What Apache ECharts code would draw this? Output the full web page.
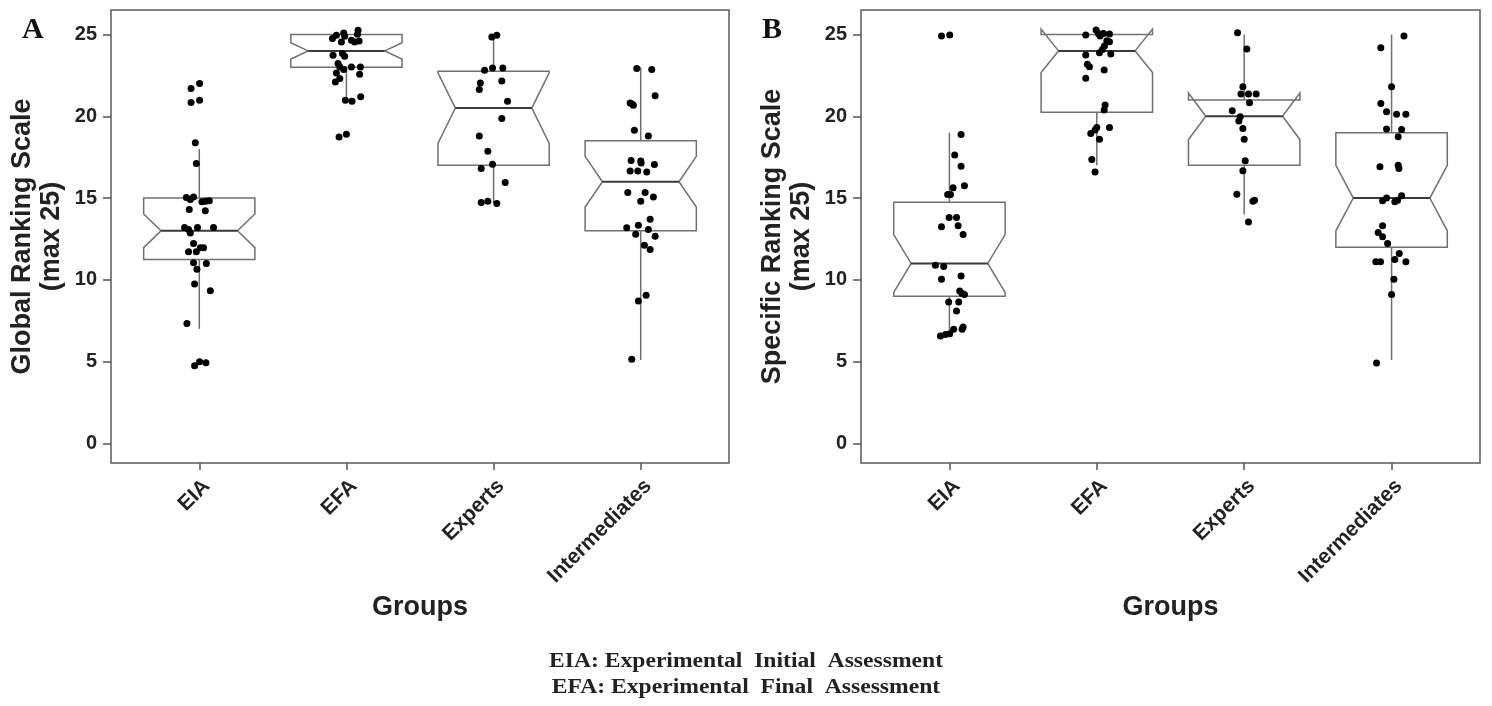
<!DOCTYPE html>
<html>
<head>
<meta charset="utf-8">
<script src="https://cdn.jsdelivr.net/npm/echarts@6/dist/echarts.min.js"></script>
<style>
html,body{margin:0;padding:0;background:#fff;}
#chart{width:1492px;height:706px;}
</style>
</head>
<body>
<div id="chart"></div>
<script>
// ---------- data ----------
const categories = ['EIA', 'EFA', 'Experts', 'Intermediates'];
const yTicks = [0, 5, 10, 15, 20, 25];
const xTicks = [1, 2, 3, 4];

// Panel A (Global Ranking Scale) box statistics
const q1A = [11.25, 23, 17, 13];
const medA = [13, 24, 20.5, 16];
const q3A = [15, 25, 22.75, 18.5];
const whiskLoA = [7, 21, 14.7, 5.1];
const whiskHiA = [18, 25, 25, 23];
const notchLoA = [11.97, 23.5, 18.34, 14.45];
const notchHiA = [14.03, 24.5, 22.66, 17.55];

// Panel B (Specific Ranking Scale) box statistics
const q1B = [9, 20.25, 17, 12];
const medB = [11, 24, 20, 15];
const q3B = [14.75, 25, 21, 19];
const whiskLoB = [6.7, 17, 14, 5.1];
const whiskHiB = [19, 25, 25, 25];
const notchLoB = [9.23, 22.67, 18.58, 13];
const notchHiB = [12.77, 25.33, 21.42, 17];

// Panel A points: values and horizontal jitter (category units)
const valA_EIA = [21.70, 22.00, 20.84, 20.98, 18.38, 17.11, 15.04, 14.91, 15.07, 14.77, 14.81, 14.83, 14.30, 14.22, 13.20, 13.08, 12.87, 13.20, 13.20, 12.22, 11.71, 11.71, 11.96, 11.96, 11.04, 11.00, 10.64, 9.74, 9.33, 7.33, 4.75, 4.99, 4.93];
const jitA_EIA = [-0.056, 0.002, -0.056, 0.002, -0.027, -0.020, -0.088, -0.061, -0.039, 0.018, 0.043, 0.068, -0.068, 0.041, -0.100, -0.073, -0.061, -0.012, 0.097, -0.039, -0.073, -0.020, 0.007, 0.029, -0.039, 0.048, -0.016, -0.032, 0.075, -0.084, -0.032, 0.002, 0.045];
const valA_EFA = [24.75, 24.96, 25.10, 24.90, 24.55, 24.65, 24.55, 25.26, 25.02, 24.60, 23.73, 23.84, 23.67, 23.23, 23.02, 22.86, 23.02, 23.02, 22.65, 22.57, 22.31, 22.10, 20.98, 20.92, 21.19, 18.74, 18.90];
const jitA_EFA = [-0.095, -0.068, -0.018, -0.012, -0.034, 0.034, 0.056, 0.079, 0.075, 0.086, -0.091, -0.027, -0.012, -0.057, -0.045, -0.018, 0.034, 0.095, -0.068, 0.090, -0.045, -0.075, -0.007, 0.038, 0.097, -0.050, 0.000];
const valA_EXP = [24.85, 24.96, 22.82, 22.96, 22.96, 22.04, 21.64, 22.16, 20.92, 19.87, 18.80, 17.87, 17.07, 16.81, 15.95, 14.73, 14.81, 14.67];
const jitA_EXP = [-0.012, 0.022, -0.061, -0.007, 0.063, -0.090, -0.097, 0.056, 0.095, 0.056, -0.097, -0.039, -0.007, -0.084, 0.079, -0.084, -0.039, 0.022];
const valA_INT = [22.92, 22.86, 21.25, 20.82, 20.74, 20.68, 19.15, 18.80, 17.30, 17.27, 17.15, 17.05, 16.66, 16.66, 16.60, 15.34, 15.34, 15.07, 14.81, 13.71, 13.34, 13.18, 13.08, 12.78, 12.67, 12.12, 11.86, 9.06, 8.70, 5.15];
const jitA_INT = [-0.027, 0.075, 0.098, -0.072, -0.056, -0.050, -0.043, 0.052, -0.065, 0.000, 0.003, 0.093, -0.072, -0.020, 0.041, -0.088, 0.030, 0.086, 0.000, 0.064, -0.016, -0.095, 0.052, -0.034, 0.098, 0.025, 0.064, 0.037, -0.016, -0.061];

// Panel B points
const valB_EIA = [24.91, 24.97, 18.89, 17.63, 16.95, 15.75, 15.63, 15.22, 15.22, 13.81, 13.81, 13.24, 13.30, 12.77, 10.89, 10.81, 10.04, 10.24, 9.32, 9.16, 9.10, 8.65, 8.65, 8.10, 6.57, 6.65, 6.71, 6.98, 6.98, 7.12];
const jitB_EIA = [-0.054, 0.002, 0.079, 0.036, 0.079, 0.102, 0.025, -0.012, 0.007, -0.002, 0.048, -0.054, 0.059, 0.093, -0.095, -0.039, -0.054, 0.079, 0.070, 0.086, 0.102, -0.005, 0.063, 0.048, -0.061, -0.027, 0.002, 0.029, 0.086, 0.093];
const valB_EFA = [24.97, 25.28, 25.07, 24.91, 25.07, 25.03, 24.62, 24.56, 24.30, 24.09, 23.89, 23.81, 23.75, 23.19, 23.03, 22.83, 22.32, 20.69, 20.38, 19.32, 19.32, 19.16, 18.95, 18.60, 17.36, 16.60];
const jitB_EFA = [-0.075, -0.005, 0.011, 0.022, 0.045, 0.086, 0.068, 0.086, 0.052, 0.038, 0.018, 0.095, -0.075, -0.064, -0.050, 0.050, -0.075, 0.056, 0.050, 0.000, 0.086, -0.012, -0.041, 0.018, -0.034, -0.012];
const valB_EXP = [25.11, 24.11, 21.81, 21.36, 21.36, 21.36, 20.83, 20.34, 19.97, 19.71, 19.26, 18.60, 17.28, 16.67, 15.24, 14.81, 14.87, 13.54];
const jitB_EXP = [-0.045, 0.018, -0.009, -0.022, 0.029, 0.081, 0.036, -0.081, -0.027, -0.036, -0.009, 0.000, 0.007, -0.009, -0.050, 0.059, 0.070, 0.029];
const valB_INT = [24.91, 24.19, 21.81, 20.79, 20.28, 20.12, 20.12, 19.22, 19.20, 18.75, 16.91, 17.01, 16.81, 14.83, 15.01, 14.77, 14.87, 15.14, 13.30, 12.89, 12.63, 12.22, 11.61, 11.10, 11.10, 11.24, 11.10, 10.04, 9.10, 4.91];
const jitB_INT = [0.084, -0.073, 0.000, -0.073, -0.034, 0.034, 0.097, -0.034, 0.068, 0.045, -0.079, 0.045, 0.050, -0.061, -0.034, 0.022, 0.041, 0.068, -0.061, -0.091, -0.061, -0.027, 0.052, -0.107, -0.075, 0.022, 0.097, 0.016, 0.000, -0.102];

// ---------- build ----------
function boxRows(q1, med, q3, lo, hi, nlo, nhi) {
  return xTicks.map((x, i) => [x, q1[i], med[i], q3[i], lo[i], hi[i], nlo[i], nhi[i]]);
}
function pointRows(groups) {
  const rows = [];
  groups.forEach((g, gi) => {
    g[0].forEach((v, i) => rows.push([xTicks[gi] + g[1][i], v]));
  });
  return rows;
}

const BOX_HALF = 0.378, NOTCH_HALF = 0.26;
const LINE_COL = '#707070';
const LABEL_SHIFT = 0.05; // rotated label anchor sits slightly right of the tick

function renderBox(params, api) {
  const x = api.value(0), q1 = api.value(1), med = api.value(2), q3 = api.value(3);
  const lo = api.value(4), hi = api.value(5), nlo = api.value(6), nhi = api.value(7);
  const P = (xx, yy) => api.coord([xx, yy]);
  const xl = x - BOX_HALF, xr = x + BOX_HALF, il = x - NOTCH_HALF, ir = x + NOTCH_HALF;
  const poly = [P(xl, q3), P(xl, nhi), P(il, med), P(xl, nlo), P(xl, q1),
                P(xr, q1), P(xr, nlo), P(ir, med), P(xr, nhi), P(xr, q3)];
  const c = P(x, 0)[0];
  const children = [];
  if (hi > q3) children.push({type: 'line', shape: {x1: c, y1: P(x, q3)[1], x2: c, y2: P(x, hi)[1]}, style: {stroke: LINE_COL, lineWidth: 1.5}});
  if (lo < q1) children.push({type: 'line', shape: {x1: c, y1: P(x, q1)[1], x2: c, y2: P(x, lo)[1]}, style: {stroke: LINE_COL, lineWidth: 1.5}});
  children.push({type: 'polygon', shape: {points: poly}, style: {fill: '#fff', stroke: LINE_COL, lineWidth: 1.5}});
  const m1 = P(il, med), m2 = P(ir, med);
  children.push({type: 'line', shape: {x1: m1[0], y1: m1[1], x2: m2[0], y2: m2[1]}, style: {stroke: '#3a3a3a', lineWidth: 2}});
  return {type: 'group', children};
}

const SANS = 'Liberation Sans, Arial, sans-serif';
const SERIF = 'Liberation Serif, Times New Roman, serif';

function xAxisDef(gi) {
  return {
    gridIndex: gi, type: 'value', min: 0.4, max: 4.6, position: 'bottom',
    axisLine: {show: false, onZero: false},
    splitLine: {show: false},
    axisTick: {show: true, customValues: xTicks, length: 7, lineStyle: {color: '#555', width: 1.5}},
    axisLabel: {
      customValues: xTicks.map(v => v + LABEL_SHIFT), rotate: 45, margin: 20,
      formatter: v => categories[Math.round(v) - 1],
      fontSize: 21, fontWeight: 'bold', color: '#222', fontFamily: SANS
    },
    name: 'Groups', nameLocation: 'middle', nameGap: 130,
    nameTextStyle: {fontSize: 27, fontWeight: 'bold', color: '#222', fontFamily: SANS}
  };
}
function yAxisDef(gi, title) {
  return {
    gridIndex: gi, type: 'value', min: -1.2, max: 26.5, position: 'left',
    axisLine: {show: false, onZero: false},
    splitLine: {show: false},
    axisTick: {show: true, customValues: yTicks, length: 8, lineStyle: {color: '#555', width: 1.5}},
    axisLabel: {customValues: yTicks, margin: 14, fontSize: 20, fontWeight: 'bold', color: '#222', fontFamily: SANS},
    name: title, nameLocation: 'middle', nameGap: 45,
    nameTextStyle: {fontSize: 27, fontWeight: 'bold', color: '#222', fontFamily: SANS, lineHeight: 29}
  };
}

const option = {
  backgroundColor: '#fff',
  animation: false,
  grid: [
    {left: 111, top: 10, width: 618, height: 453, show: true, borderColor: '#5a5a5a', borderWidth: 1.5, backgroundColor: 'transparent'},
    {left: 861, top: 10, width: 619, height: 453, show: true, borderColor: '#5a5a5a', borderWidth: 1.5, backgroundColor: 'transparent'}
  ],
  xAxis: [xAxisDef(0), xAxisDef(1)],
  yAxis: [yAxisDef(0, 'Global Ranking Scale\n(max 25)'), yAxisDef(1, 'Specific Ranking Scale\n(max 25)')],
  series: [
    {type: 'custom', xAxisIndex: 0, yAxisIndex: 0, renderItem: renderBox, encode: {x: 0, y: [1, 2, 3, 4, 5, 6, 7]},
     data: boxRows(q1A, medA, q3A, whiskLoA, whiskHiA, notchLoA, notchHiA), z: 2, silent: true},
    {type: 'custom', xAxisIndex: 1, yAxisIndex: 1, renderItem: renderBox, encode: {x: 0, y: [1, 2, 3, 4, 5, 6, 7]},
     data: boxRows(q1B, medB, q3B, whiskLoB, whiskHiB, notchLoB, notchHiB), z: 2, silent: true},
    {type: 'scatter', xAxisIndex: 0, yAxisIndex: 0, symbolSize: 7, itemStyle: {color: '#000', opacity: 1}, z: 5, silent: true,
     data: pointRows([[valA_EIA, jitA_EIA], [valA_EFA, jitA_EFA], [valA_EXP, jitA_EXP], [valA_INT, jitA_INT]])},
    {type: 'scatter', xAxisIndex: 1, yAxisIndex: 1, symbolSize: 7, itemStyle: {color: '#000', opacity: 1}, z: 5, silent: true,
     data: pointRows([[valB_EIA, jitB_EIA], [valB_EFA, jitB_EFA], [valB_EXP, jitB_EXP], [valB_INT, jitB_INT]])}
  ],
  graphic: [
    {type: 'text', left: 22, top: 15, style: {text: 'A', font: 'bold 30px ' + SERIF, fill: '#111'}},
    {type: 'text', left: 762, top: 15, style: {text: 'B', font: 'bold 30px ' + SERIF, fill: '#111'}},
    {type: 'text', x: 746, y: 662, scaleX: 1.18, style: {text: 'EIA: Experimental  Initial  Assessment', font: 'bold 20px ' + SERIF, fill: '#222', align: 'center', verticalAlign: 'middle'}},
    {type: 'text', x: 746, y: 688, scaleX: 1.18, style: {text: 'EFA: Experimental  Final  Assessment', font: 'bold 20px ' + SERIF, fill: '#222', align: 'center', verticalAlign: 'middle'}}
  ]
};

const chart = echarts.init(document.getElementById('chart'), null, {renderer: 'canvas'});
chart.setOption(option);
</script>
</body>
</html>
